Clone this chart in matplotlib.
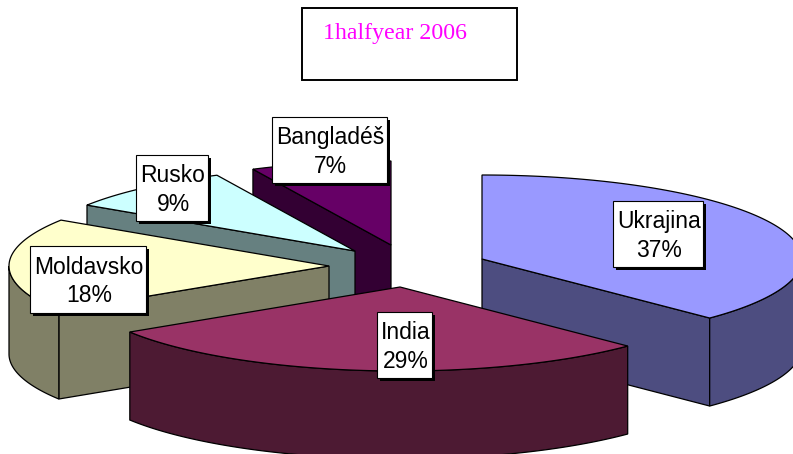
import numpy as np
import matplotlib
matplotlib.use('Agg')
import matplotlib.pyplot as plt
from matplotlib.patches import Polygon, Rectangle

labels = ['Ukrajina', 'India', 'Moldavsko', 'Rusko', 'Bangladéš']
# shares, the labels round them
values = [37.4, 28.6, 18.2, 8.7, 7.1]
top_colors = ['#9999FF', '#993366', '#FFFFCC', '#CCFFFF', '#660066']
side_colors = ['#4D4D80', '#4D1A33', '#808066', '#668080', '#330033']

# apex of each exploded slice, in pixels
apex = [(482, 259), (400, 287), (329, 266), (355, 251), (391, 245)]
# label box: left, top, right, bottom
boxes = [(613, 201, 703, 267), (377, 312, 432, 378), (30, 246, 146, 313),
         (136, 155, 208, 221), (272, 117, 387, 183)]
RX, RY, DEPTH = 320, 84, 88


def rim(c, a0, a1):
    t = np.radians(np.linspace(a0, a1, 120))
    return np.column_stack([c[0] + RX * np.sin(t), c[1] - RY * np.cos(t)])


def draw_slice(i, a0, a1):
    c = apex[i]
    down = np.array([0, DEPTH])
    edge = dict(facecolor=side_colors[i], edgecolor='black', linewidth=0.9)
    # cut faces, only those turned towards the viewer
    for a, shown in ((a0, a0 > 180), (a1, a1 < 180)):
        if shown:
            p = rim(c, a, a)[0]
            ax.add_patch(Polygon([c, p, p + down, np.array(c) + down], **edge))
    # outer wall, only the front half of the circle shows
    lo, hi = max(a0, 90), min(a1, 270)
    if lo < hi:
        r = rim(c, lo, hi)
        ax.add_patch(Polygon(np.vstack([r, (r + down)[::-1]]), **edge))
    ax.add_patch(Polygon(np.vstack([[c], rim(c, a0, a1)]), facecolor=top_colors[i],
                         edgecolor='black', linewidth=0.9))


fig = plt.figure(figsize=(7.93, 4.54), dpi=100)
ax = fig.add_axes([0, 0, 1, 1])
ax.set_xlim(0, 793)
ax.set_ylim(454, 0)
ax.axis('off')

ends = np.cumsum(values) / np.sum(values) * 360
starts = np.concatenate([[0], ends[:-1]])
for i in [4, 3, 2, 0, 1]:
    draw_slice(i, starts[i], ends[i])

for name, v, b in zip(labels, values, boxes):
    x0, y0, x1, y1 = b
    ax.add_patch(Rectangle((x0 + 3, y0 + 3), x1 - x0, y1 - y0, facecolor='black', edgecolor='none'))
    ax.add_patch(Rectangle((x0, y0), x1 - x0, y1 - y0, facecolor='white', edgecolor='black', linewidth=0.8))
    ax.text((x0 + x1) / 2 + 1, (y0 + y1) / 2 + 2, f'{name}\n{v:.0f}%', ha='center', va='center',
            family='Liberation Sans', fontsize=16.5, linespacing=1.3, color='black')

ax.add_patch(Rectangle((302, 8), 215, 72, facecolor='white', edgecolor='black', linewidth=1.4))
ax.text(323, 34, '1halfyear 2006', ha='left', va='center', family='Liberation Serif',
        fontsize=17.2, color='#FF00FF')

fig.savefig('out.png', dpi=100)
